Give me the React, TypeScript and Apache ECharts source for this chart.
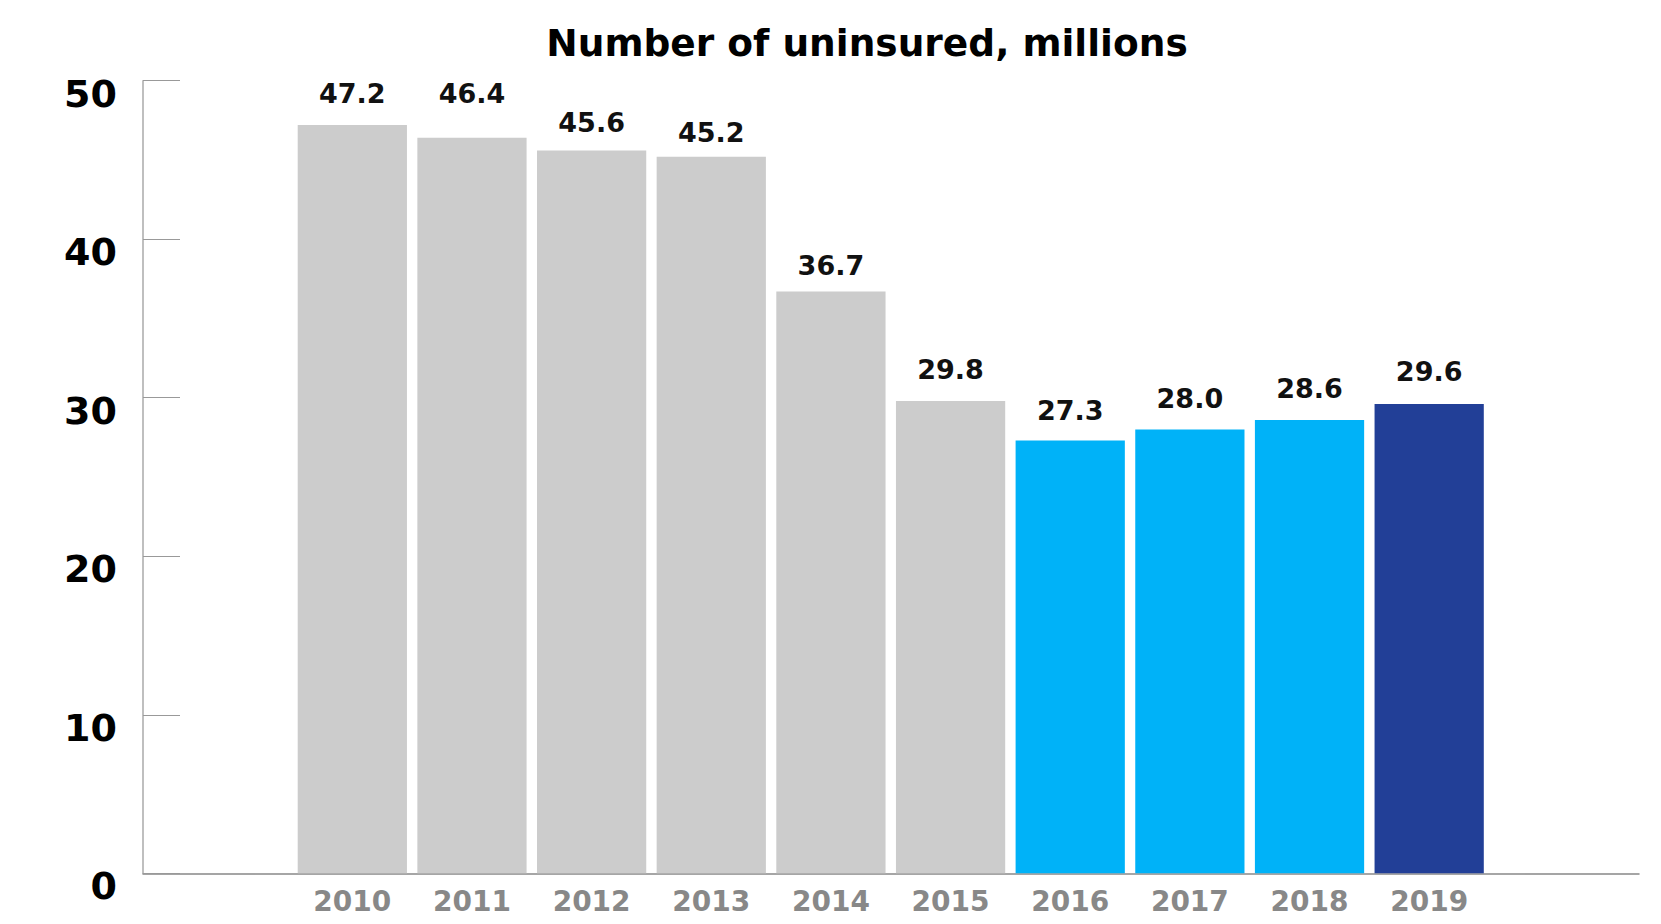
import React, { useEffect, useRef } from "react";
import * as echarts from "echarts";

const years = ["2010", "2011", "2012", "2013", "2014", "2015", "2016", "2017", "2018", "2019"];
const uninsured = [47.2, 46.4, 45.6, 45.2, 36.7, 29.8, 27.3, 28.0, 28.6, 29.6];
const barColors = ["#cccccc", "#cccccc", "#cccccc", "#cccccc", "#cccccc", "#cccccc", "#00b2f8", "#00b2f8", "#00b2f8", "#223f97"];
const labelNudge = [0, -13, 4, 7, 5, 0, 1, 1, 0, -1];
const yTicks = [0, 10, 20, 30, 40, 50];

const FONT = "'DejaVu Sans', 'Noto Sans', sans-serif";

export default function App() {
  const ref = useRef<HTMLDivElement>(null);
  useEffect(() => {
    if (!ref.current) return;
    const chart = echarts.init(ref.current, undefined, { renderer: "svg" });
    const yMin = yTicks[0];
    const yMax = yTicks[yTicks.length - 1];
    const yInt = yTicks[1] - yTicks[0];
    chart.setOption({
      animation: false,
      backgroundColor: "#ffffff",
      title: {
        text: "Number of uninsured, millions",
        left: 862,
        top: 19,
        textAlign: "center",
        textStyle: { fontFamily: FONT, fontSize: 37.5, fontWeight: "bold", color: "#000000" },
      },
      grid: [
        { left: 143, right: 22, top: 80.7, bottom: 50.7, containLabel: false },
        { left: 292.5, right: 172, top: 80.7, bottom: 50.7, containLabel: false },
      ],
      xAxis: [
        {
          gridIndex: 0,
          type: "value",
          min: 0,
          max: 1,
          axisLine: { show: true, onZero: false, lineStyle: { color: "#888888", width: 1.5 } },
          axisTick: { show: false },
          axisLabel: { show: false },
          splitLine: { show: false },
        },
        {
          gridIndex: 1,
          type: "category",
          data: years,
          axisLine: { show: false },
          axisTick: { show: false },
          axisLabel: {
            color: "#888888",
            fontFamily: FONT,
            fontSize: 28,
            fontWeight: "bold",
            margin: 14,
          },
        },
      ],
      yAxis: [
        {
          gridIndex: 0,
          type: "value",
          min: yMin,
          max: yMax,
          interval: yInt,
          axisLine: { show: true, lineStyle: { color: "#aaaaaa", width: 1.5 } },
          axisTick: { show: true, inside: true, length: 37, lineStyle: { color: "#999999", width: 1.2 } },
          axisLabel: {
            color: "#000000",
            fontFamily: FONT,
            fontSize: 38,
            fontWeight: "bold",
            margin: 26,
            verticalAlign: "top",
            lineHeight: 26,
          },
          splitLine: { show: false },
        },
        {
          gridIndex: 1,
          type: "value",
          min: yMin,
          max: yMax,
          interval: yInt,
          show: false,
          splitLine: { show: false },
        },
      ],
      series: [
        {
          type: "bar",
          xAxisIndex: 1,
          yAxisIndex: 1,
          barCategoryGap: "8.7%",
          data: uninsured.map((v, i) => ({
            value: v,
            itemStyle: { color: barColors[i] },
            label: { offset: [0, labelNudge[i]] },
          })),
          label: {
            show: true,
            position: "top",
            distance: 18,
            color: "#111111",
            fontFamily: FONT,
            fontSize: 27,
            fontWeight: "bold",
            formatter: (p: any) => Number(p.value).toFixed(1),
          },
        },
      ],
    });
    return () => chart.dispose();
  }, []);
  return <div ref={ref} style={{ position: "absolute", left: 0, top: 0, width: 1661, height: 924 }} />;
}
